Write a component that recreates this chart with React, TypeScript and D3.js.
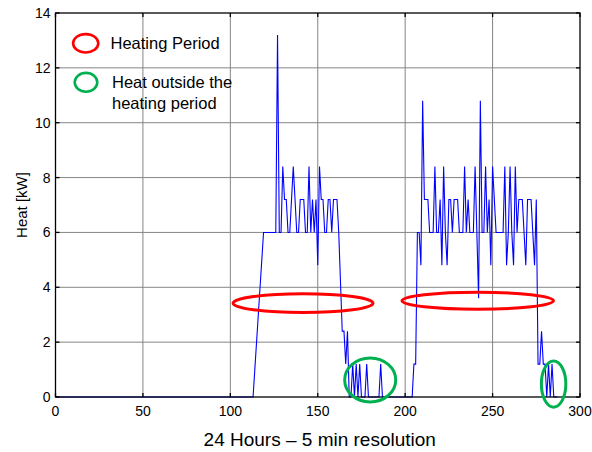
import React from "react";
import * as d3 from "d3";

// Heat demand over 24 hours, sampled every 5 minutes (sample index 0..287)
const xTicks = [0, 50, 100, 150, 200, 250, 300];
const yTicks = [0, 2, 4, 6, 8, 10, 12, 14];

// Morning heating block, one value per sample starting at index 113
const block1Start = 113;
const block1Heat = [
  0, 1.0, 2.0, 3.0, 4.0, 5.0, 6.0, 6.0, 6.0, 6.0,
  6.0, 6.0, 6.0, 6.0, 13.2, 6.0, 6.0, 8.4, 7.2, 7.2,
  6.0, 6.0, 7.2, 8.4, 7.2, 6.0, 6.0, 7.2, 7.2, 7.2,
  6.0, 6.0, 8.4, 6.0, 7.2, 6.0, 7.2, 4.8, 8.4, 7.2,
  7.2, 6.0, 6.0, 7.2, 7.2, 6.0, 7.2, 7.2, 7.2, 6.0,
  4.2, 2.4, 2.4, 1.2, 2.4, 0, 0, 1.2, 0, 1.2,
  0, 1.2, 0, 0, 0, 1.2, 0, 0, 0, 0,
  0, 0, 0, 1.2, 0,
];

// Evening heating block, one value per sample starting at index 204
const block2Start = 204;
const block2Heat = [
  0, 1.2, 1.2, 6.0, 6.0, 4.8, 10.8, 7.2, 7.2, 7.2,
  6.0, 6.0, 6.0, 8.4, 6.0, 6.0, 7.2, 4.8, 8.4, 6.0,
  4.8, 7.2, 7.2, 6.0, 7.2, 7.2, 7.2, 6.0, 6.0, 6.0,
  8.4, 6.0, 7.2, 6.0, 6.0, 6.0, 8.4, 6.0, 3.6, 10.8,
  6.0, 6.0, 8.4, 6.0, 7.2, 4.8, 8.4, 7.2, 6.0, 6.0,
  6.0, 6.0, 6.0, 8.4, 4.8, 6.0, 8.4, 6.0, 4.8, 8.4,
  6.0, 7.2, 7.2, 7.2, 6.0, 4.8, 7.2, 7.2, 7.2, 6.0,
  4.8, 7.2, 1.2, 1.2, 2.4, 1.2, 1.2, 0, 1.2, 0,
  1.2, 0, 0, 0,
];

// Annotation ellipses in data units: [centre sample, centre kW, radius samples, radius kW]
const heatingPeriods = [
  [141.6, 3.42, 40, 0.34],
  [241.5, 3.51, 43.3, 0.31],
];
const outsideHeating = [
  [180, 0.62, 14.6, 0.8],
  [284.9, 0.47, 7.0, 0.84],
];

const W = 592;
const H = 452;
const FONT = "'Liberation Sans', Arial, sans-serif";
const RED = "#ff0000";
const GREEN = "#00b050";

export default function App() {
  const x = d3.scaleLinear().domain([0, 300]).range([55.5, 580]);
  const y = d3.scaleLinear().domain([0, 14]).range([397, 13]);

  const points: [number, number][] = [[0, 0]];
  block1Heat.forEach((v, i) => points.push([block1Start + i, v]));
  block2Heat.forEach((v, i) => points.push([block2Start + i, v]));
  points.push([287, 0]);

  const line = d3
    .line<[number, number]>()
    .x((d) => x(d[0]))
    .y((d) => y(d[1]));

  const [x0, x1] = x.range();
  const [y0, y1] = y.range();
  const tick = 4;

  return (
    <svg
      width={W}
      height={H}
      style={{ position: "absolute", left: 0, top: 0, background: "#fff" }}
      fontFamily={FONT}
    >
      <rect x={0} y={0} width={W} height={H} fill="#fff" />

      {/* grid */}
      <g stroke="#858585" strokeWidth={1}>
        {xTicks.slice(1, -1).map((t) => (
          <line key={"gx" + t} x1={x(t)} x2={x(t)} y1={y1} y2={y0} />
        ))}
        {yTicks.slice(1, -1).map((t) => (
          <line key={"gy" + t} x1={x0} x2={x1} y1={y(t)} y2={y(t)} />
        ))}
      </g>

      {/* heat series */}
      <path d={line(points) || ""} fill="none" stroke="#0000ff" strokeWidth={1.1} />

      {/* axes box with inward ticks */}
      <g stroke="#000" strokeWidth={1.3}>
        <rect x={x0} y={y1} width={x1 - x0} height={y0 - y1} fill="none" />
        {xTicks.map((t) => (
          <g key={"tx" + t}>
            <line x1={x(t)} x2={x(t)} y1={y0} y2={y0 - tick} />
            <line x1={x(t)} x2={x(t)} y1={y1} y2={y1 + tick} />
          </g>
        ))}
        {yTicks.map((t) => (
          <g key={"ty" + t}>
            <line x1={x0} x2={x0 + tick} y1={y(t)} y2={y(t)} />
            <line x1={x1} x2={x1 - tick} y1={y(t)} y2={y(t)} />
          </g>
        ))}
      </g>

      {/* tick labels */}
      <g fontSize={14} fill="#000">
        {xTicks.map((t) => (
          <text key={"lx" + t} x={x(t)} y={y0 + 19} textAnchor="middle">
            {t}
          </text>
        ))}
        {yTicks.map((t) => (
          <text key={"ly" + t} x={x0 - 5} y={y(t) + 5} textAnchor="end">
            {t}
          </text>
        ))}
      </g>

      {/* axis titles */}
      <text x={(x0 + x1) / 2 + 2} y={446} fontSize={19} textAnchor="middle" fill="#000">
        24 Hours – 5 min resolution
      </text>
      <text
        transform={`translate(27, ${(y0 + y1) / 2}) rotate(-90)`}
        fontSize={15}
        textAnchor="middle"
        fill="#000"
      >
        Heat [kW]
      </text>

      {/* annotation ellipses */}
      {heatingPeriods.map(([cx, cy, rx, ry], i) => (
        <ellipse
          key={"hp" + i}
          cx={x(cx)}
          cy={y(cy)}
          rx={x(cx + rx) - x(cx)}
          ry={y(cy - ry) - y(cy)}
          fill="none"
          stroke={RED}
          strokeWidth={3}
        />
      ))}
      {outsideHeating.map(([cx, cy, rx, ry], i) => (
        <ellipse
          key={"oh" + i}
          cx={x(cx)}
          cy={y(cy)}
          rx={x(cx + rx) - x(cx)}
          ry={y(cy - ry) - y(cy)}
          fill="none"
          stroke={GREEN}
          strokeWidth={3}
        />
      ))}

      {/* legend */}
      <g fontSize={16.5} fill="#000">
        <ellipse cx={85.7} cy={43.3} rx={12.6} ry={9.2} fill="none" stroke={RED} strokeWidth={2.6} />
        <text x={110.5} y={49}>Heating Period</text>
        <ellipse cx={86} cy={82.3} rx={11.3} ry={9.4} fill="none" stroke={GREEN} strokeWidth={2.6} />
        <text x={112} y={88}>Heat outside the</text>
        <text x={112} y={109}>heating period</text>
      </g>
    </svg>
  );
}
